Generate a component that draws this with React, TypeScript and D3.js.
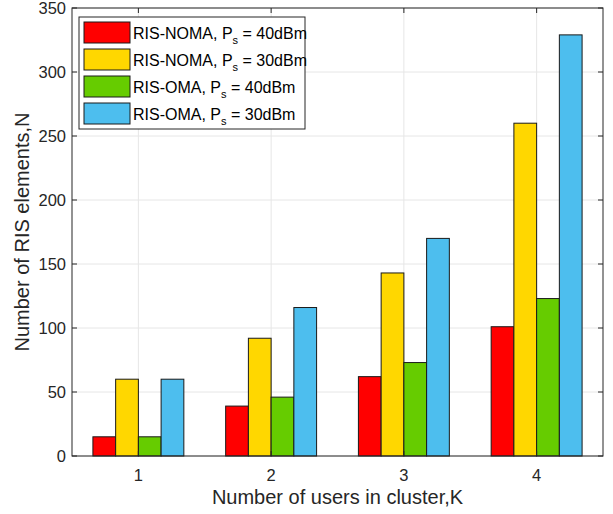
import React from 'react';
import * as d3 from 'd3';

const clusters = ['1', '2', '3', '4'];
const seriesNames = ['RIS-NOMA', 'RIS-NOMA', 'RIS-OMA', 'RIS-OMA'];
const seriesPower = ['40dBm', '30dBm', '40dBm', '30dBm'];
const seriesColors = ['#ff0000', '#ffd700', '#66cc00', '#4dbeee'];
const values = [
  [15, 39, 62, 101],
  [60, 92, 143, 260],
  [15, 46, 73, 123],
  [60, 116, 170, 329],
];
const yTicks = [0, 50, 100, 150, 200, 250, 300, 350];

const W = 613;
const H = 514;
const margin = { left: 72, right: 10, top: 8, bottom: 58 };
const font = 'Liberation Sans, Arial, Helvetica, sans-serif';

const App: React.FC = () => {
  const x = d3
    .scaleLinear()
    .domain([0.5, 4.5])
    .range([margin.left, W - margin.right]);
  const y = d3
    .scaleLinear()
    .domain([0, 350])
    .range([H - margin.bottom, margin.top]);
  const unit = x(2) - x(1);
  const groupWidth = unit * 0.685;
  const inner = d3
    .scaleBand()
    .domain(seriesNames.map((_, i) => String(i)))
    .range([-groupWidth / 2, groupWidth / 2])
    .padding(0);
  const x0 = margin.left;
  const x1 = W - margin.right;
  const y0 = H - margin.bottom;
  const y1 = margin.top;
  const axisColor = '#262626';
  const tick = 5;

  return (
    <svg width={W} height={H} style={{ position: 'absolute', left: 0, top: 0, background: '#fff' }} fontFamily={font}>
      <rect x={0} y={0} width={W} height={H} fill="#fff" />
      {/* grid */}
      {yTicks.map((t) => (
        <line key={'gy' + t} x1={x0} x2={x1} y1={y(t)} y2={y(t)} stroke="#e6e6e6" strokeWidth={1} />
      ))}
      {clusters.map((c, i) => (
        <line key={'gx' + c} x1={x(i + 1)} x2={x(i + 1)} y1={y0} y2={y1} stroke="#e6e6e6" strokeWidth={1} />
      ))}
      {/* bars */}
      {values.map((row, s) =>
        row.map((v, k) => (
          <rect
            key={`b${s}-${k}`}
            x={x(k + 1) + (inner(String(s)) as number)}
            y={y(v)}
            width={inner.bandwidth()}
            height={y(0) - y(v)}
            fill={seriesColors[s]}
            stroke="#1a1a1a"
            strokeWidth={1}
          />
        )),
      )}
      {/* axes box */}
      <rect x={x0} y={y1} width={x1 - x0} height={y0 - y1} fill="none" stroke={axisColor} strokeWidth={1} />
      {yTicks.map((t) => (
        <g key={'ty' + t}>
          <line x1={x0} x2={x0 + tick} y1={y(t)} y2={y(t)} stroke={axisColor} />
          <line x1={x1} x2={x1 - tick} y1={y(t)} y2={y(t)} stroke={axisColor} />
          <text x={x0 - 6} y={y(t)} dy="0.35em" textAnchor="end" fontSize={16.5} fill="#262626">
            {t}
          </text>
        </g>
      ))}
      {clusters.map((c, i) => (
        <g key={'tx' + c}>
          <line x1={x(i + 1)} x2={x(i + 1)} y1={y0} y2={y0 - tick} stroke={axisColor} />
          <line x1={x(i + 1)} x2={x(i + 1)} y1={y1} y2={y1 + tick} stroke={axisColor} />
          <text x={x(i + 1)} y={y0 + 19} dy="0.35em" textAnchor="middle" fontSize={16.5} fill="#262626">
            {c}
          </text>
        </g>
      ))}
      {/* axis labels */}
      <text x={(x0 + x1) / 2} y={y0 + 41} dy="0.35em" textAnchor="middle" fontSize={20} fill="#262626">
        Number of users in cluster,K
      </text>
      <text
        transform={`translate(22, ${(y0 + y1) / 2}) rotate(-90)`}
        textAnchor="middle"
        dy="0.35em"
        fontSize={20}
        fill="#262626"
      >
        Number of RIS elements,N
      </text>
      {/* legend */}
      <g transform="translate(79, 17)">
        <rect x={0} y={0} width={226} height={112} fill="#fff" stroke={axisColor} strokeWidth={1} />
        {seriesNames.map((n, i) => (
          <g key={'lg' + i} transform={`translate(5, ${5 + i * 27})`}>
            <rect x={0} y={0} width={46} height={21} fill={seriesColors[i]} stroke="#1a1a1a" />
            <text x={49} y={11} dy="0.35em" fontSize={16} fill="#000">
              {n}, P
              <tspan fontSize={11} dy="5">s</tspan>
              <tspan dy="-5"> = {seriesPower[i]}</tspan>
            </text>
          </g>
        ))}
      </g>
    </svg>
  );
};

export default App;
